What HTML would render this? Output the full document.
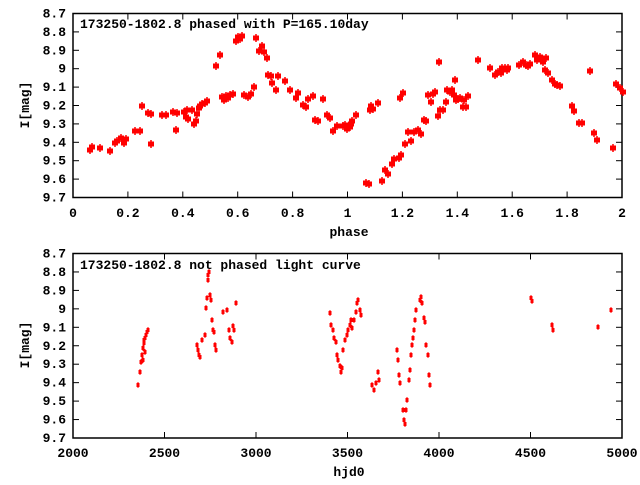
<!DOCTYPE html>
<html><head><meta charset="utf-8"><style>
body{margin:0;background:#fff}
svg text{font-family:"Liberation Mono",monospace;font-weight:bold;font-size:13px;fill:#000}
</style></head><body>
<svg id="s" width="640" height="480" xmlns="http://www.w3.org/2000/svg">
<g fill="none" stroke="#000" stroke-width="1.5">
<rect x="73" y="13.5" width="549" height="184"/>
<rect x="73" y="253.5" width="549" height="184.5"/>
</g>
<g id="ticks" stroke="#000" stroke-width="1"></g>
<g id="labels"></g>
<text x="80" y="28">173250-1802.8 phased with P=165.10day</text>
<text x="80" y="269">173250-1802.8 not phased light curve</text>
<text x="349" y="236" text-anchor="middle">phase</text>
<text x="349" y="476" text-anchor="middle">hjd0</text>
<text transform="translate(29,105) rotate(-90)" text-anchor="middle">I[mag]</text>
<text transform="translate(29,345) rotate(-90)" text-anchor="middle">I[mag]</text>
<g id="pts" fill="#f00" stroke="#f00"></g>
</svg>
<script>
(function(){
var NS="http://www.w3.org/2000/svg",T=document.getElementById('ticks'),L=document.getElementById('labels'),P=document.getElementById('pts');
function el(p,n,a,t){var e=document.createElementNS(NS,n);for(var k in a)e.setAttribute(k,a[k]);if(t)e.textContent=t;p.appendChild(e);}
var yl=['8.7','8.8','8.9','9','9.1','9.2','9.3','9.4','9.5','9.6','9.7'];
[[13.5,197.5],[253.5,438]].forEach(function(r){
 for(var i=0;i<=10;i++){var y=r[0]+(r[1]-r[0])*i/10;
  el(L,'text',{x:66,y:y+4,'text-anchor':'end'},yl[i]);
  if(i>0&&i<10){el(T,'line',{x1:73,y1:y,x2:79,y2:y});el(T,'line',{x1:622,y1:y,x2:616,y2:y});}}
});
var xl1=['0','0.2','0.4','0.6','0.8','1','1.2','1.4','1.6','1.8','2'];
for(var i=0;i<=10;i++){var x=73+54.9*i;el(L,'text',{x:x,y:217,'text-anchor':'middle'},xl1[i]);
 if(i>0&&i<10){el(T,'line',{x1:x,y1:197.5,x2:x,y2:191.5});el(T,'line',{x1:x,y1:13.5,x2:x,y2:19.5});}}
var xl2=['2000','2500','3000','3500','4000','4500','5000'];
for(var i=0;i<=6;i++){var x=73+91.5*i;el(L,'text',{x:x,y:457,'text-anchor':'middle'},xl2[i]);
 if(i>0&&i<6){el(T,'line',{x1:x,y1:438,x2:x,y2:432});el(T,'line',{x1:x,y1:253.5,x2:x,y2:259.5});}}
var tp=[[90,150],[92,147],[100,148],[110,151],[115,143],[117,141],[121,138],[124,143],[126,139],[135,131],[140,131],[142,106],[148,113],[151,114],[151,144],[162,115],[166,115],[173,112],[176,130],[177,113],[184,112],[186,117],[187,110],[188,119],[192,110],[194,124],[196,121],[197,114],[199,108],[200,106],[202,104],[205,103],[207,101],[216,66],[220,55],[222,97],[224,100],[226,96],[228,98],[230,95],[233,94],[236,41],[238,37],[240,39],[242,36],[244,95],[248,97],[251,94],[254,87],[256,38],[259,51],[262,46],[264,52],[267,58],[268,75],[271,76],[272,83],[276,90],[278,76],[285,81],[290,90],[296,98],[298,93],[303,105],[306,107],[308,99],[313,96],[315,120],[318,121],[323,99],[327,115],[330,118],[333,131],[337,126],[343,126],[345,125],[347,129],[350,127],[351,124],[352,121],[356,115],[366,183],[369,184],[370,110],[371,106],[373,109],[378,103],[382,181],[385,170],[388,174],[392,164],[394,159],[399,158],[400,98],[401,155],[403,93],[405,144],[408,132],[411,141],[414,132],[418,130],[421,134],[424,120],[426,121],[428,95],[431,102],[433,94],[435,92],[438,116],[439,62],[440,110],[443,110],[446,102],[447,90],[450,92],[452,90],[454,95],[455,80],[456,100],[458,99],[460,98],[463,107],[464,100],[466,107],[468,96],[478,60],[490,68],[495,75],[498,72],[501,73],[502,68],[505,68],[507,70],[508,68],[519,65],[523,62],[526,65],[528,66],[530,64],[535,55],[537,60],[540,57],[543,62],[545,70],[546,58],[548,73],[552,80],[555,84],[557,85],[560,86],[572,106],[574,111],[579,123],[582,123],[590,71],[594,133],[597,140],[613,148],[616,84],[620,88],[623,92]];
tp.forEach(function(p){el(P,'rect',{x:p[0]-3,y:p[1]-2.5,width:6,height:5,stroke:'none'});el(P,'line',{x1:p[0],y1:p[1]-4,x2:p[0],y2:p[1]+4,'stroke-width':1.5});});
var bt=[[138,385],[140,372],[141,362],[142,355],[143,348],[144,343],[144,340],[145,338],[146,335],[147,332],[148,330],[145,352],[143,360],[197,345],[198,350],[199,355],[200,357],[202,340],[205,335],[206,308],[207,298],[208,280],[208,275],[209,272],[210,295],[211,300],[212,320],[213,330],[214,332],[215,345],[216,350],[223,312],[227,310],[229,330],[230,338],[232,342],[233,326],[234,330],[236,303],[330,313],[331,325],[333,330],[334,338],[336,342],[337,355],[338,360],[340,366],[341,372],[342,368],[343,350],[345,340],[347,335],[348,330],[350,325],[351,320],[352,328],[354,320],[356,312],[357,303],[358,300],[360,310],[361,315],[372,385],[374,390],[376,383],[378,372],[379,380],[397,350],[398,360],[399,375],[400,383],[403,410],[404,420],[405,424],[406,410],[407,400],[409,380],[410,370],[411,355],[412,345],[413,338],[414,330],[415,320],[416,310],[420,300],[421,297],[422,303],[424,318],[425,322],[426,345],[428,355],[429,375],[430,385],[531,298],[532,301],[552,325],[553,330],[598,327],[611,310]];
bt.forEach(function(p){el(P,'rect',{x:p[0]-1.5,y:p[1]-2,width:3,height:4,stroke:'none'});el(P,'line',{x1:p[0],y1:p[1]-3,x2:p[0],y2:p[1]+3,'stroke-width':1});});
})();
</script>
</body></html>
